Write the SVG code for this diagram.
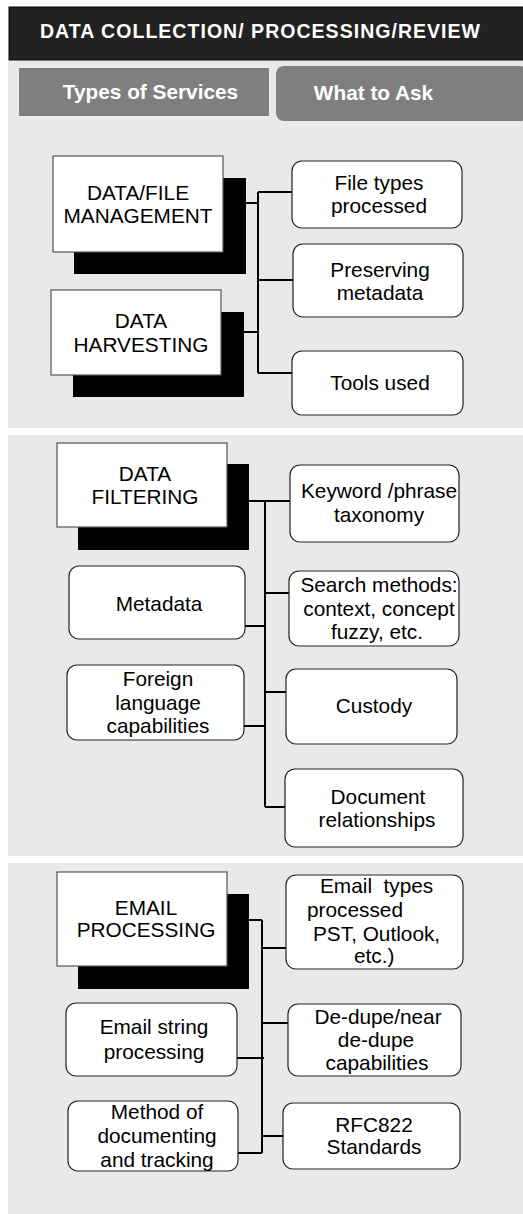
<svg xmlns="http://www.w3.org/2000/svg" width="523" height="1214" viewBox="0 0 523 1214">
<style>
.panel{fill:#e9e9e9}
.shadow{fill:#000}
.sq{fill:#fff;stroke:#555;stroke-width:1.2}
.rr{fill:#fff;stroke:#222;stroke-width:1.2}
.t{font-family:"Liberation Sans",Arial,sans-serif;font-size:20.8px;fill:#000;text-anchor:middle}
.ts{font-family:"Liberation Sans",Arial,sans-serif;font-size:20.8px;fill:#000}
.hb{font-family:"Liberation Sans",Arial,sans-serif;font-weight:bold;fill:#fff}
.c{stroke:#000;stroke-width:2;fill:none}
</style>
<rect x="0" y="0" width="523" height="1214" fill="#fff"/>
<g id="backgrounds">
<rect class="panel" x="8" y="61" width="515" height="367"/>
<rect class="panel" x="8" y="435" width="515" height="421"/>
<rect class="panel" x="8" y="863" width="515" height="351"/>
</g>
<g id="header">
<rect x="9" y="7" width="515" height="53" fill="#222" stroke="#000" stroke-width="1"/>
<text class="hb" x="40" y="38" font-size="19.5" textLength="440" lengthAdjust="spacing">DATA COLLECTION/ PROCESSING/REVIEW</text>
</g>
<g id="tab-types">
<rect x="19" y="68" width="250" height="48" fill="#7f7f7f"/>
<text class="hb" x="150.5" y="99" font-size="20.8" text-anchor="middle">Types of Services</text>
</g>
<g id="tab-ask">
<rect x="276" y="66" width="252" height="55" rx="8" fill="#7f7f7f"/>
<text class="hb" x="373.5" y="100" font-size="20.8" text-anchor="middle">What to Ask</text>
</g>

<g id="connectors">
<path class="c" d="M258 192V373M246 203H258M244 332H258M258 192H292M258 280H293M258 373H292"/>
<path class="c" d="M265 501V807M249 501H290M265 593H289M245 626H265M265 692H286M244 726H265M265 807H285"/>
<path class="c" d="M262 920V1153M249 920H262M262 948H286M262 1023H288M237 1058H264M262 1136H283M238 1153H262"/>
</g>

<g id="n-data-file-management">
<rect class="shadow" x="74" y="178" width="172" height="96"/>
<rect class="sq" x="53" y="156" width="170" height="96"/>
<text class="t" x="138" y="200">DATA/FILE</text>
<text class="t" x="138" y="223">MANAGEMENT</text>
</g>
<g id="n-data-harvesting">
<rect class="shadow" x="73" y="312" width="171" height="85"/>
<rect class="sq" x="51" y="290" width="170" height="85"/>
<text class="t" x="141" y="328">DATA</text>
<text class="t" x="141" y="352">HARVESTING</text>
</g>
<g id="n-file-types">
<rect class="rr" x="292" y="161" width="170" height="67" rx="10"/>
<text class="t" x="379" y="190">File types</text>
<text class="t" x="379" y="213">processed</text>
</g>
<g id="n-preserving">
<rect class="rr" x="293" y="244" width="170" height="73" rx="10"/>
<text class="t" x="380" y="277">Preserving</text>
<text class="t" x="380" y="300">metadata</text>
</g>
<g id="n-tools">
<rect class="rr" x="292" y="351" width="171" height="64" rx="10"/>
<text class="t" x="380" y="390">Tools used</text>
</g>

<g id="n-data-filtering">
<rect class="shadow" x="78" y="464" width="171" height="86"/>
<rect class="sq" x="57" y="443" width="170" height="84"/>
<text class="t" x="145" y="481">DATA</text>
<text class="t" x="145" y="504">FILTERING</text>
</g>
<g id="n-keyword">
<rect class="rr" x="290" y="465" width="169" height="77" rx="10"/>
<text class="t" x="379" y="498">Keyword /phrase</text>
<text class="t" x="379" y="522">taxonomy</text>
</g>
<g id="n-search">
<rect class="rr" x="289" y="571" width="170" height="75" rx="10"/>
<text class="t" x="379" y="592">Search methods:</text>
<text class="t" x="379" y="616">context, concept</text>
<text class="t" x="377" y="639">fuzzy, etc.</text>
</g>
<g id="n-custody">
<rect class="rr" x="286" y="669" width="171" height="75" rx="10"/>
<text class="t" x="374" y="713">Custody</text>
</g>
<g id="n-document">
<rect class="rr" x="285" y="769" width="178" height="78" rx="10"/>
<text class="t" x="378" y="804">Document</text>
<text class="t" x="377" y="827">relationships</text>
</g>
<g id="n-metadata">
<rect class="rr" x="69" y="566" width="176" height="73" rx="10"/>
<text class="t" x="159" y="611">Metadata</text>
</g>
<g id="n-foreign">
<rect class="rr" x="67" y="665" width="177" height="75" rx="10"/>
<text class="t" x="158" y="686">Foreign</text>
<text class="t" x="158" y="710">language</text>
<text class="t" x="158" y="733">capabilities</text>
</g>

<g id="n-email-processing">
<rect class="shadow" x="78" y="894" width="171" height="95"/>
<rect class="sq" x="57" y="872" width="170" height="94"/>
<text class="t" x="146" y="915">EMAIL</text>
<text class="t" x="146" y="937">PROCESSING</text>
</g>
<g id="n-email-types">
<rect class="rr" x="286" y="875" width="177" height="94" rx="10"/>
<text class="ts" x="320" y="893" style="white-space:pre">Email  types</text>
<text class="ts" x="307" y="917">processed</text>
<text class="ts" x="313" y="941">PST, Outlook,</text>
<text class="ts" x="354" y="963">etc.)</text>
</g>
<g id="n-dedupe">
<rect class="rr" x="288" y="1004" width="173" height="72" rx="10"/>
<text class="t" x="378" y="1024">De-dupe/near</text>
<text class="t" x="376" y="1047">de-dupe</text>
<text class="t" x="377" y="1070">capabilities</text>
</g>
<g id="n-rfc">
<rect class="rr" x="283" y="1103" width="177" height="66" rx="10"/>
<text class="t" x="374" y="1132">RFC822</text>
<text class="t" x="374" y="1154">Standards</text>
</g>
<g id="n-email-string">
<rect class="rr" x="66" y="1003" width="171" height="73" rx="10"/>
<text class="t" x="154" y="1034">Email string</text>
<text class="t" x="154" y="1059">processing</text>
</g>
<g id="n-method">
<rect class="rr" x="68" y="1101" width="170" height="70" rx="10"/>
<text class="t" x="157" y="1119">Method of</text>
<text class="t" x="157" y="1143">documenting</text>
<text class="t" x="157" y="1167">and tracking</text>
</g>
</svg>
